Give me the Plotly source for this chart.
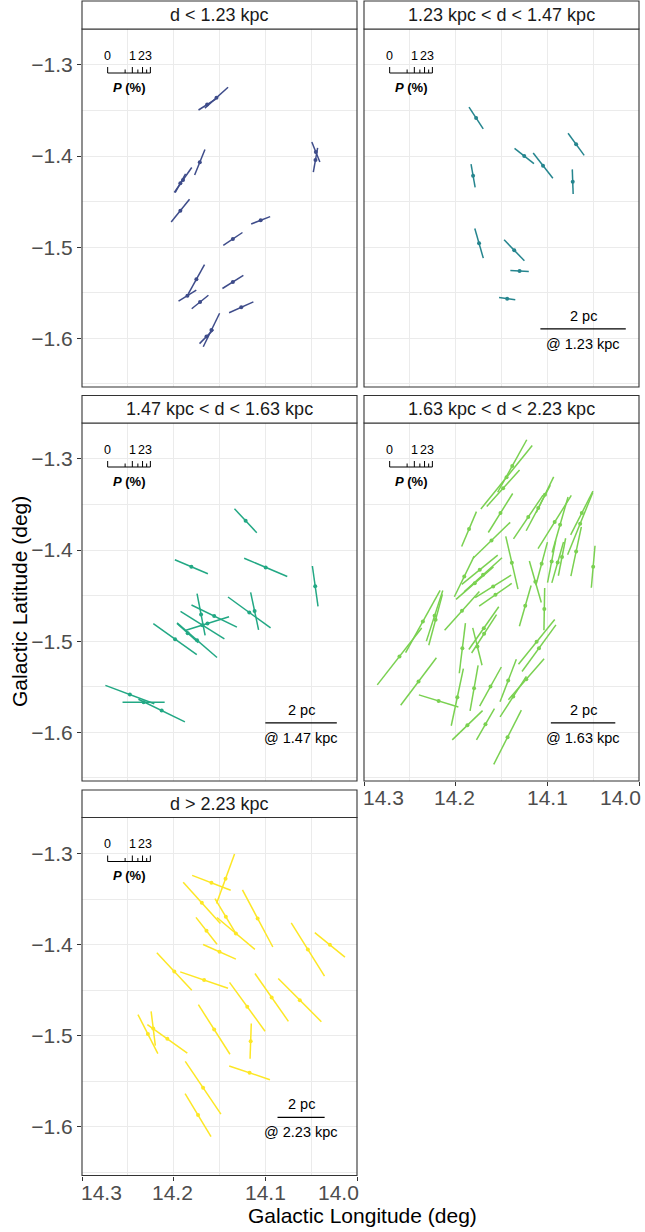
import numpy as np
import plotly.graph_objects as go

# ---------------- data ----------------
# Each vector: Galactic longitude l (deg), latitude b (deg),
# on-sky angle psi of the segment (deg, counter-clockwise from screen right),
# polarisation fraction P (%).
p1_l = [14.1635, 14.1533, 14.1715, 14.1898, 14.1927, 14.1927, 14.1051, 14.1354, 14.1752,
        14.1850, 14.1712, 14.1354, 14.1263, 14.1588, 14.1642, 14.0449, 14.0453]
p1_b = [-1.3435, -1.3359, -1.4068, -1.4262, -1.4299, -1.4599, -1.4705, -1.4910, -1.5353,
        -1.5532, -1.5602, -1.5382, -1.5660, -1.5909, -1.5982, -1.3955, -1.4043]
p1_psi = [32, 42, 68, 55, 61, 51, 21, 34, 61, 32, 39, 32, 24, 64, 45, -68, 80]
p1_P = [0.17, 0.40, 0.31, 0.38, 0.19, 0.35, 0.17, 0.22, 0.46, 0.18, 0.19, 0.25, 0.29, 0.57,
        0.16, 0.19, 0.25]

p2_l = [14.1777, 14.0686, 14.1252, 14.1047, 14.1810, 14.0723, 14.1745, 14.1361, 14.1303, 14.1438]
p2_b = [-1.3582, -1.3871, -1.3999, -1.4105, -1.4215, -1.4281, -1.4958, -1.5034, -1.5261, -1.5565]
p2_psi = [-57, -54, -38, -52, -80, -88, -74, -46, -3, -8]
p2_P = [0.28, 0.31, 0.25, 0.42, 0.23, 0.25, 0.39, 0.35, 0.14, 0.11]

p3_l = [14.1215, 14.1807, 14.0996, 14.0456, 14.1701, 14.1558, 14.1686, 14.1631, 14.1745,
        14.1847, 14.1985, 14.1175, 14.1117, 14.2328, 14.2478, 14.2131]
p3_b = [-1.3678, -1.4183, -1.4190, -1.4396, -1.4707, -1.4725, -1.4824, -1.4806, -1.4989,
        -1.4912, -1.4978, -1.4685, -1.4670, -1.5670, -1.5586, -1.5762]
p3_psi = [-47, -23, -23, -82, -79, -26, -32, 17.5, -41, -42, -35.5, -36, -78, 0, -20.5, -26]
p3_P = [0.44, 0.53, 0.90, 0.68, 0.74, 1.05, 1.10, 0.84, 1.15, 0.34, 1.17, 1.14, 0.60, 0.73,
        1.12, 1.10]

p4_l = [14.1383, 14.1445, 14.1482, 14.1511, 14.1854, 14.1026, 14.1099, 14.1208, 14.1609, 14.0920,
        14.0642, 14.0686, 14.0861, 14.0500, 14.1387, 14.1131, 14.1062, 14.0887, 14.1737, 14.1701,
        14.1591, 14.1792, 14.1566, 14.2358, 14.2230, 14.2219, 14.2613, 14.2405, 14.2186, 14.1927,
        14.1982, 14.1763, 14.1693, 14.1690, 14.1799, 14.1620, 14.1427, 14.1434, 14.1872, 14.1675,
        14.1117, 14.1091, 14.1230, 14.1372, 14.1033, 14.1241, 14.1931, 14.0624, 14.0953, 14.1906,
        14.0840]
p4_b = [-1.3077, -1.3201, -1.3322, -1.3593, -1.3769, -1.3392, -1.3538, -1.3637, -1.3894, -1.3692,
        -1.3711, -1.4015, -1.3722, -1.4183, -1.4139, -1.4348, -1.4150, -1.4136, -1.4216, -1.4271,
        -1.4399, -1.4363, -1.4491, -1.4784, -1.4722, -1.4766, -1.5168, -1.5443, -1.5656, -1.5077,
        -1.5615, -1.5059, -1.4857, -1.4919, -1.5516, -1.5498, -1.5432, -1.6055, -1.5923, -1.5912,
        -1.5007, -1.5077, -1.5418, -1.5608, -1.4648, -1.4612, -1.4667, -1.3593, -1.4125, -1.4289,
        -1.4076]
p4_psi = [61, 51, 48, 58, 67, 64, 62, 56, 44, 58,
          68, 78, 74, 85, -77, -74, 75, 74, 39, 42,
          32, 41, 35, 61, 72, 75, 52, 53, -17, 83,
          78, -76, 55, 57, 80, 61, 69, 63, 44, 60,
          51, 54, 49, 57, 89, 74, 48, 63, 79, 64,
          79]
p4_P = [1.48, 2.74, 0.99, 0.87, 0.59, 0.65, 1.09, 1.15, 1.11, 1.62,
        1.84, 1.04, 1.37, 0.73, 1.21, 0.77, 0.82, 0.74, 0.88, 1.07,
        0.74, 1.01, 0.65, 2.08, 1.16, 1.14, 2.14, 1.45, 0.70, 1.05,
        1.40, 0.61, 1.12, 0.86, 0.88, 0.82, 0.85, 1.52, 0.73, 0.53,
        1.36, 1.37, 1.22, 0.96, 0.74, 0.74, 1.11, 0.99, 0.76, 0.84,
        0.60]

p5_l = [14.1434, 14.1588, 14.1693, 14.1321, 14.1431, 14.1084, 14.1642, 14.1500, 14.0536, 14.0296,
        14.1993, 14.1668, 14.1197, 14.0931, 14.0624, 14.1558, 14.1160, 14.2281, 14.2223, 14.2069,
        14.1172, 14.1679, 14.1734]
p5_b = [-1.3278, -1.3322, -1.3542, -1.3878, -1.3695, -1.3713, -1.3849, -1.4079, -1.4054, -1.4003,
        -1.4295, -1.4390, -1.4683, -1.4580, -1.4610, -1.4932, -1.5060, -1.4983, -1.4921, -1.5034,
        -1.5408, -1.5572, -1.5872]
p5_psi = [70, -21, -48, -40, -59, -62, -52, -24, -58, -39,
          -47, -19, -54, -55, -45, -57.5, 88, -63, -83, -35.5,
          -18.6, -56, -59]
p5_P = [1.14, 0.70, 1.27, 1.01, 0.73, 1.72, 0.48, 0.53, 1.62, 0.62,
        1.08, 1.05, 1.50, 1.40, 1.53, 1.42, 0.51, 0.79, 0.49, 0.99,
        0.76, 1.67, 1.04]

panel_titles = ["d < 1.23 kpc", "1.23 kpc < d < 1.47 kpc", "1.47 kpc < d < 1.63 kpc",
                "1.63 kpc < d < 2.23 kpc", "d > 2.23 kpc"]
scale_dist_kpc = [None, 1.23, 1.47, 1.63, 2.23]
scale_bar_pc = 2
x_ticks = [14.3, 14.2, 14.1, 14.0]
x_tick_text = ["14.3", "14.2", "14.1", "14.0"]
y_ticks = [-1.3, -1.4, -1.5, -1.6]
ruler_ticks = [0, 0.5, 1, 1.5, 2, 2.5, 3]
ruler_labels = [0, 1, 2, 3]
panel_colors = ["#3E4C8A", "#25858E", "#22A884", "#7AD151", "#FDE725"]

panels_l = [p1_l, p2_l, p3_l, p4_l, p5_l]
panels_b = [p1_b, p2_b, p3_b, p4_b, p5_b]
panels_psi = [p1_psi, p2_psi, p3_psi, p4_psi, p5_psi]
panels_P = [p1_P, p2_P, p3_P, p4_P, p5_P]

# ---------------- layout constants ----------------
W, H = 645, 1232
FONT = "Liberation Sans, Arial, Helvetica, sans-serif"
XR = [14.3, 14.0]
YR = [-1.6535, -1.2605]
K = 0.0466          # half-length (deg) of a P = 3 % vector == ruler length
boxes = [  # x0, x1, y0(top), y1(bottom), strip_top  (pixels)
    (82, 357, 29, 387, 1),
    (364, 639, 29, 387, 1),
    (82, 357, 423, 781, 395.5),
    (364, 639, 423, 781, 395.5),
    (82, 357, 817.5, 1175.5, 790),
]
show_y = [True, False, True, False, True]
show_x = [False, False, False, True, True]


def fx(p):
    return p / W


def fy(p):
    return 1 - p / H


fig = go.Figure()
shapes = []
annotations = []
layout = {}

for i in range(5):
    k = "" if i == 0 else str(i + 1)
    x0, x1, y0, y1, st = boxes[i]
    xref, yref = "x" + k, "y" + k
    col = panel_colors[i]
    ppx = (x1 - x0) / abs(XR[0] - XR[1])
    ppy = (y1 - y0) / abs(YR[1] - YR[0])
    ys = ppx / ppy

    l = np.array(panels_l[i]); b = np.array(panels_b[i])
    psi = np.radians(np.array(panels_psi[i])); P = np.array(panels_P[i])
    h = K * np.sqrt(P / 3.0)
    xs, yv = [], []
    for j in range(len(l)):
        xs += [l[j] - h[j] * np.cos(psi[j]), l[j] + h[j] * np.cos(psi[j]), None]
        yv += [b[j] + h[j] * np.sin(psi[j]) * ys, b[j] - h[j] * np.sin(psi[j]) * ys, None]
    fig.add_trace(go.Scatter(x=xs, y=yv, mode="lines", line=dict(color=col, width=1.5),
                             xaxis=xref, yaxis=yref, showlegend=False, hoverinfo="skip"))
    fig.add_trace(go.Scatter(x=l, y=b, mode="markers", marker=dict(color=col, size=4),
                             xaxis=xref, yaxis=yref, showlegend=False))

    layout["xaxis" + k] = dict(
        domain=[fx(x0), fx(x1)], range=XR, anchor=yref, showline=False, zeroline=False,
        tickmode="array", tickvals=x_ticks, showticklabels=False,
        ticks="outside" if show_x[i] else "", ticklen=4, tickwidth=1, tickcolor="#333333",
        showgrid=True, gridcolor="#EBEBEB", gridwidth=1.1,
        minor=dict(tickmode="array", tickvals=[14.25, 14.15, 14.05], showgrid=True,
                   gridcolor="#EBEBEB", gridwidth=0.6, ticks=""),
        fixedrange=True)
    layout["yaxis" + k] = dict(
        domain=[fy(y1), fy(y0)], range=YR, anchor=xref, showline=False, zeroline=False,
        tickmode="array", tickvals=y_ticks, showticklabels=show_y[i],
        ticks="outside" if show_y[i] else "", ticklen=4, tickwidth=1, tickcolor="#333333",
        tickfont=dict(family=FONT, size=21, color="#4D4D4D"),
        showgrid=True, gridcolor="#EBEBEB", gridwidth=1.1,
        minor=dict(tickmode="array", tickvals=[-1.65, -1.55, -1.45, -1.35, -1.25],
                   showgrid=True, gridcolor="#EBEBEB", gridwidth=0.6, ticks=""),
        fixedrange=True)

    # panel border + strip
    shapes.append(dict(type="rect", xref="paper", yref="paper", x0=fx(x0), x1=fx(x1),
                       y0=fy(y1), y1=fy(y0), line=dict(color="#333333", width=1.1),
                       fillcolor="rgba(0,0,0,0)", layer="above"))
    shapes.append(dict(type="rect", xref="paper", yref="paper", x0=fx(x0), x1=fx(x1),
                       y0=fy(y0), y1=fy(st), line=dict(color="#333333", width=1.1),
                       fillcolor="white", layer="above"))
    annotations.append(dict(text=panel_titles[i], xref="paper", yref="paper",
                            x=fx((x0 + x1) / 2), y=fy((y0 + st) / 2), xanchor="center",
                            yanchor="middle", showarrow=False,
                            font=dict(family=FONT, size=18, color="#1A1A1A")))

    # P ruler legend
    r0 = 14.272
    rb = -1.3088
    tick_big = 6 / ppy
    tick_small = 3.5 / ppy
    shapes.append(dict(type="line", xref=xref, yref=yref, x0=r0, x1=r0 - K, y0=rb, y1=rb,
                       line=dict(color="black", width=1)))
    for t in ruler_ticks:
        xt = r0 - K * np.sqrt(t / 3.0)
        th = tick_big if float(t).is_integer() else tick_small
        shapes.append(dict(type="line", xref=xref, yref=yref, x0=xt, x1=xt, y0=rb, y1=rb + th,
                           line=dict(color="black", width=1)))
    for t in ruler_labels:
        xt = r0 - K * np.sqrt(t / 3.0)
        annotations.append(dict(text=str(t), xref=xref, yref=yref, x=xt, y=-1.2901,
                                xanchor="center", yanchor="middle", showarrow=False,
                                xshift=-1.5 if t >= 2 else 0,
                                font=dict(family=FONT, size=12.5, color="black")))
    annotations.append(dict(text="<b><i>P</i> (%)</b>", xref=xref, yref=yref, x=r0 - K / 2,
                            y=-1.3245, xanchor="center", yanchor="middle", showarrow=False,
                            font=dict(family=FONT, size=13, color="black")))

    # physical scale bar
    d = scale_dist_kpc[i]
    if d is not None:
        half = np.degrees(scale_bar_pc / (d * 1000.0)) / 2
        cx = 14.061
        shapes.append(dict(type="line", xref=xref, yref=yref, x0=cx + half, x1=cx - half,
                           y0=-1.5898, y1=-1.5898, line=dict(color="black", width=1.3)))
        annotations.append(dict(text=f"{scale_bar_pc} pc", xref=xref, yref=yref, x=cx,
                                y=-1.5752, xanchor="center", yanchor="middle", showarrow=False,
                                font=dict(family=FONT, size=14.5, color="black")))
        annotations.append(dict(text=f"@ {d:.2f} kpc", xref=xref, yref=yref, x=cx,
                                y=-1.6059, xanchor="center", yanchor="middle", showarrow=False,
                                font=dict(family=FONT, size=14.5, color="black")))

    # x tick labels (outer labels justified inward, as in the reference)
    if show_x[i]:
        anchors = ["left", "center", "center", "right"]
        shifts = [-3.5, -1, 0, 3.5]
        for tv, tt, an, sh in zip(x_ticks, x_tick_text, anchors, shifts):
            annotations.append(dict(text=tt, xref=xref, yref="paper", x=tv, y=fy(y1 + 16.5),
                                    xanchor=an, yanchor="middle", xshift=sh, showarrow=False,
                                    font=dict(family=FONT, size=21, color="#4D4D4D")))

# axis titles
annotations.append(dict(text="Galactic Longitude (deg)", xref="paper", yref="paper",
                        x=fx(362), y=fy(1215), xanchor="center", yanchor="middle",
                        showarrow=False, font=dict(family=FONT, size=21, color="black")))
annotations.append(dict(text="Galactic Latitude (deg)", xref="paper", yref="paper",
                        x=fx(19), y=fy(602), xanchor="center", yanchor="middle",
                        textangle=-90, showarrow=False,
                        font=dict(family=FONT, size=21, color="black")))

fig.update_layout(width=W, height=H, margin=dict(l=0, r=0, t=0, b=0),
                  paper_bgcolor="white", plot_bgcolor="white", showlegend=False,
                  shapes=shapes, annotations=annotations, font=dict(family=FONT), **layout)

# remove the default 8 px page margin so the figure sits at the window origin
fig.write_html("out.html", config={"displayModeBar": False},
               post_script="document.body.style.margin='0px';"
                           "document.body.style.overflow='hidden';")
